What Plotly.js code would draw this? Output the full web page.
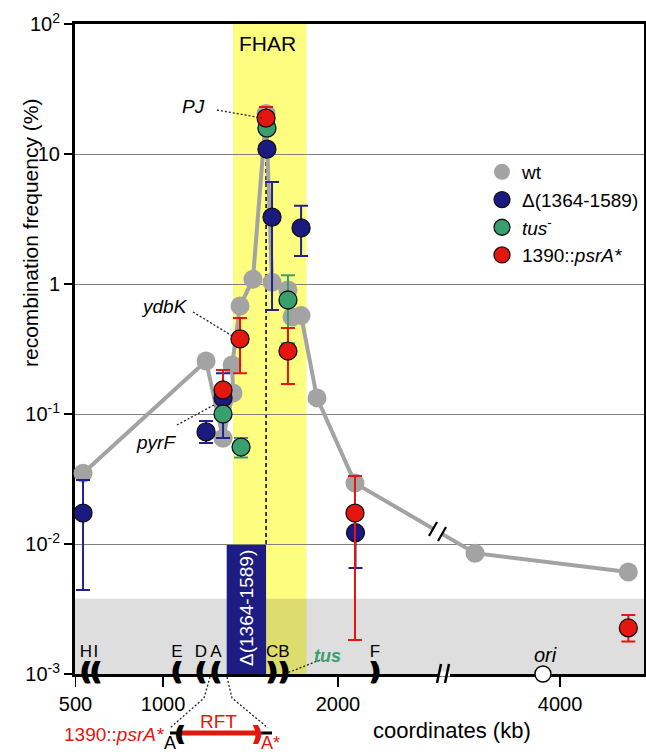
<!DOCTYPE html>
<html><head><meta charset="utf-8">
<script src="https://cdn.plot.ly/plotly-3.0.1.min.js"></script>
<style>html,body{margin:0;padding:0;background:#fff;}#chart{width:646px;height:752px;}</style>
</head><body><div id="chart"></div>
<script>
// ---------------- data ----------------
const wtKb   = [543, 1246, 1343, 1400, 1395, 1440, 1514, 1589, 1623, 1714, 1737, 1789, 1880, 2097, 3514, 4390];
const wtFreq = [0.035, 0.256, 0.065, 0.145, 0.238, 0.677, 1.09, 20.5, 1.03, 0.90, 0.557, 0.573, 0.133, 0.0294, 0.0085, 0.0061];

const delKb   = [543, 1246, 1343, 1594, 1623, 1789, 2100];
const delFreq = [0.0173, 0.0728, 0.133, 10.9, 3.27, 2.7, 0.0122];
const delHi   = [0.031, 0.0883, 0.206, null, 6.1, 4.0, null];
const delLo   = [0.00443, 0.0598, 0.0653, null, 0.63, 1.64, 0.00653];

const tusKb   = [1343, 1446, 1594, 1714];
const tusFreq = [0.1, 0.0557, 15.8, 0.753];
const tusHi   = [null, 0.0653, null, 1.17];
const tusLo   = [null, 0.0463, null, 0.35];

const psrKb   = [1343, 1440, 1589, 1714, 2097, 4390];
const psrFreq = [0.153, 0.378, 18.9, 0.305, 0.0173, 0.00226];
const psrHi   = [0.218, 0.547, 23, 0.459, 0.0333, 0.00284];
const psrLo   = [null, 0.206, null, 0.17, 0.00183, 0.00178];

const terNames = ['H', 'I', 'E', 'D', 'A', 'C', 'B', 'F'];
const terKb    = [560, 617, 1080, 1217, 1303, 1623, 1691, 2211];
const terGlyph = ['(', '(', '(', '(', '(', ')', ')', ')'];
const oriKb = 3902;
const fharKb = [1400, 1820];
const delRegionKb = [1364, 1589];
const detectionLimit = 0.0038;
const peakKb = 1589, peakFreq = 20;

const xTickKb = [500, 1000, 2000, 4000];
const xTickText = ['500', '1000', '2000', '4000'];
const yTickVals = [0.001, 0.01, 0.1, 1, 10, 100];
const yTickText = ['10<sup>-3</sup>', '10<sup>-2</sup>', '10<sup>-1</sup>', '1', '10', '10<sup>2</sup>'];

// broken x axis: the region between BREAK_KB and BREAK_KB+GAP_KB is cut out
const BREAK_KB = 2594, GAP_KB = 731;
const xp = kb => kb > BREAK_KB ? kb - GAP_KB : kb;
const xs = arr => arr.map(xp);

// ---------------- style ----------------
const FONT = 'Liberation Sans, Arial, Helvetica, sans-serif';
const GRAY = '#a3a3a3', NAVY = '#1a1a80', NAVYBAR = '#22228f', GREEN = '#3a9f6e', RED = '#e5160e';

const L = 75, R = 644, T = 24, B = 674;
const Y_LO = -3, Y_HI = 2;
const PX = x => (x - L) / (R - L);
const PY = y => (B - y) / (B - T);
const PV = v => (Math.log10(v) - Y_LO) / (Y_HI - Y_LO);   // value -> paper fraction on the log axis

function errs(y, hi, lo) {
  return {
    type: 'data', symmetric: false,
    array: y.map((v, i) => hi[i] == null ? 0 : hi[i] - v),
    arrayminus: y.map((v, i) => lo[i] == null ? 0 : v - lo[i]),
    thickness: 2, width: 7
  };
}
const THICK = '1px 0px 0px #000, -1px 0px 0px #000';

const traces = [
  { x: xs(wtKb), y: wtFreq, mode: 'lines', line: {color: GRAY, width: 4}, showlegend: false, hoverinfo: 'skip', cliponaxis: false },
  { x: xs(wtKb), y: wtFreq, mode: 'markers', name: 'wt', marker: {color: GRAY, size: 19}, cliponaxis: false },
  { x: xs(delKb), y: delFreq, mode: 'markers', name: 'Δ(1364-1589)',
    marker: {color: NAVY, size: 18, line: {color: '#111', width: 1.3}},
    error_y: Object.assign(errs(delFreq, delHi, delLo), {color: NAVYBAR}), cliponaxis: false },
  { x: xs(tusKb), y: tusFreq, mode: 'markers', name: '<i>tus</i><sup>-</sup>',
    marker: {color: GREEN, size: 18, line: {color: '#111', width: 1.3}},
    error_y: Object.assign(errs(tusFreq, tusHi, tusLo), {color: GREEN}), cliponaxis: false },
  { x: xs(psrKb), y: psrFreq, mode: 'markers', name: '1390::<i>psrA*</i>',
    marker: {color: RED, size: 18, line: {color: '#111', width: 1.3}},
    error_y: Object.assign(errs(psrFreq, psrHi, psrLo), {color: RED}), cliponaxis: false },
  { x: xs(terKb), y: terKb.map(() => 0.001), mode: 'text', text: terGlyph.map(g => '<b>' + g + '</b>'), textposition: 'middle center',
    textfont: {family: 'DejaVu Sans', size: 25, color: '#000', shadow: THICK}, showlegend: false, hoverinfo: 'skip', cliponaxis: false },
  { x: xs(terKb), y: terKb.map(() => 0.00145), mode: 'text', text: terNames, textposition: 'middle center',
    textfont: {family: FONT, size: 17, color: '#000'}, showlegend: false, hoverinfo: 'skip', cliponaxis: false },
  { x: [xp(oriKb)], y: [0.001], mode: 'markers', marker: {color: '#fff', size: 16, line: {color: '#000', width: 1.5}},
    showlegend: false, hoverinfo: 'skip', cliponaxis: false }
];

function ann(text, x, y, o) {
  return Object.assign({text, xref: 'paper', yref: 'paper', x: PX(x), y: PY(y), showarrow: false,
    xanchor: 'center', yanchor: 'middle', font: {family: FONT, size: 19, color: '#000'}}, o || {});
}
function seg(x0, y0, x1, y1, color, width, dash, layer) {
  return {type: 'line', xref: 'paper', yref: 'paper', x0: PX(x0), y0: PY(y0), x1: PX(x1), y1: PY(y1),
    line: {color, width, dash: dash || 'solid'}, layer: layer || 'above'};
}
function poly(pts, color, width, dash) {
  const p = pts.map((q, i) => (i ? 'L' : 'M') + PX(q[0]) + ',' + PY(q[1])).join(' ');
  return {type: 'path', xref: 'paper', yref: 'paper', path: p, line: {color, width, dash}, layer: 'above'};
}

const shapes = [
  {type: 'rect', xref: 'x', yref: 'paper', x0: fharKb[0], x1: fharKb[1], y0: 0, y1: 1, fillcolor: '#fdfd80', line: {width: 0}, layer: 'below'},
  {type: 'rect', xref: 'paper', yref: 'paper', x0: 0, x1: 1, y0: 0, y1: PV(detectionLimit), fillcolor: 'rgba(0,0,0,0.13)', line: {width: 0}, layer: 'below'},
  {type: 'rect', xref: 'x', yref: 'paper', x0: delRegionKb[0], x1: delRegionKb[1], y0: PV(0.001), y1: PV(0.01), fillcolor: '#1c1c82', line: {width: 0}, layer: 'below'},
  {type: 'line', xref: 'x', yref: 'paper', x0: peakKb, x1: peakKb, y0: PV(0.01), y1: PV(peakFreq), line: {color: '#000', width: 1.5, dash: '4px,3px'}, layer: 'below'},
  // leader lines
  seg(217, 110, 262, 118, '#222', 1.3, '2px,2px'),
  seg(193, 312, 234, 337, '#222', 1.3, '2px,2px'),
  seg(177, 425, 214, 405, '#222', 1.3, '2px,2px'),
  seg(320, 660, 287, 673, '#222', 1.3, '2px,2px'),
  // axis break on x axis
  seg(438, 674, 450, 674, '#fff', 5),
  seg(437, 683, 441, 664, '#000', 2.5),
  seg(445, 683, 449, 664, '#000', 2.5),
  // break on the wt line
  seg(433, 529, 442, 534, '#fff', 6),
  seg(429, 536, 437, 522, '#000', 2.2),
  seg(438, 541, 446, 527, '#000', 2.2),
  // inset RFT diagram
  poly([[210, 677], [204, 698], [170, 728]], '#222', 1.3, '2px,2px'),
  poly([[227, 677], [232, 698], [268, 728]], '#222', 1.3, '2px,2px'),
  seg(170, 733, 272, 733, '#000', 3),
  seg(180, 733, 257, 733, RED, 5)
];

const annotations = [
  ann('FHAR', 267, 43, {font: {family: FONT, size: 21, color: '#000'}}),
  ann('<i>PJ</i>', 193, 107),
  ann('<i>ydbK</i>', 164, 306),
  ann('<i>pyrF</i>', 156, 442),
  ann('<b><i>tus</i></b>', 327, 656, {font: {family: FONT, size: 18, color: GREEN}}),
  ann('<i>ori</i>', 545, 655, {font: {family: FONT, size: 20, color: '#000'}}),
  ann('Δ(1364-1589)', 246, 608, {textangle: -90, font: {family: FONT, size: 19, color: '#fff'}}),
  ann('recombination frequency (%)', 30, 233, {textangle: -90, font: {family: FONT, size: 21, color: '#000'}}),
  ann('coordinates (kb)', 452, 730, {font: {family: FONT, size: 22, color: '#000'}}),
  ann('1390::<i>psrA*</i>', 166, 734, {xanchor: 'right', font: {family: FONT, size: 19, color: RED}}),
  ann('RFT', 218, 721, {font: {family: FONT, size: 19, color: RED}}),
  ann('A', 170, 743, {font: {family: FONT, size: 18, color: '#000'}}),
  ann('A*', 270, 743, {font: {family: FONT, size: 18, color: RED}}),
  ann('<b>(</b>', 180, 733, {font: {family: 'DejaVu Sans', size: 22, color: '#000', shadow: THICK}}),
  ann('<b>)</b>', 257, 733, {font: {family: 'DejaVu Sans', size: 22, color: RED, shadow: '1px 0px 0px ' + RED + ', -1px 0px 0px ' + RED}})
];

const layout = {
  width: 646, height: 752,
  margin: {l: L, r: 646 - R, t: T, b: 752 - B, pad: 0},
  paper_bgcolor: '#fff', plot_bgcolor: '#fff',
  font: {family: FONT, color: '#000', size: 17},
  showlegend: true,
  legend: {x: PX(482), y: PY(153), xanchor: 'left', yanchor: 'top', bgcolor: 'rgba(0,0,0,0)',
    font: {family: FONT, size: 19, color: '#000'}, itemwidth: 30, tracegroupgap: 0},
  xaxis: {
    range: [497.1, 3748.6], showgrid: false, zeroline: false,
    tickvals: xTickKb.map(xp), ticktext: xTickText, ticks: 'outside', ticklen: 10, tickwidth: 1.5, tickcolor: '#000',
    tickfont: {family: FONT, size: 20, color: '#000'},
    showline: true, linewidth: 3, linecolor: '#000', mirror: true, layer: 'below traces', fixedrange: true
  },
  yaxis: {
    type: 'log', range: [Y_LO, Y_HI], showgrid: true, gridcolor: '#808080', gridwidth: 1, zeroline: false,
    tickvals: yTickVals, ticktext: yTickText, ticks: 'outside', ticklen: 8, tickwidth: 1.5, tickcolor: '#000',
    tickfont: {family: FONT, size: 20, color: '#000'},
    showline: true, linewidth: 3, linecolor: '#000', mirror: true, layer: 'below traces', fixedrange: true
  },
  shapes, annotations
};

Plotly.newPlot('chart', traces, layout, {displayModeBar: false, staticPlot: true});
</script>
</body></html>
